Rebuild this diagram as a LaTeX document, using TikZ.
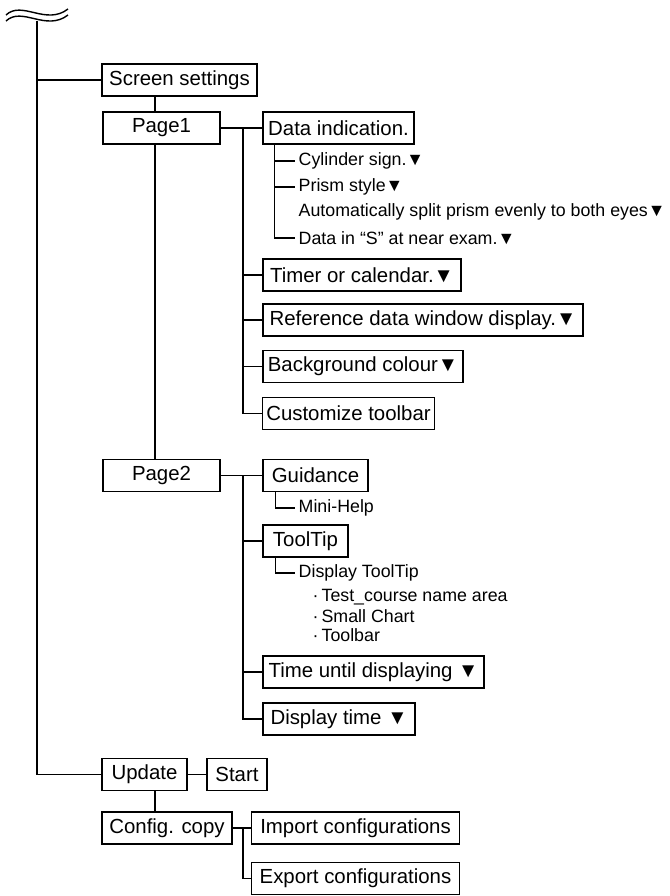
\documentclass[tikz,border=0pt]{standalone}
\usepackage{fontspec}
\setmainfont{Liberation Sans}
\usepackage{tikz}

\begin{document}
\begin{tikzpicture}[x=0.5pt,y=-0.5pt,line width=0.7pt,
  menubox/.style={draw,fill=white,minimum height=16pt,inner xsep=2pt,inner ysep=0pt,font=\fontsize{10.2}{12}\selectfont},
  subitem/.style={anchor=west,inner xsep=1.5pt,inner ysep=0pt,font=\fontsize{8.9}{10.5}\selectfont}]
\useasboundingbox (0,0) rectangle (670,896);
\node[menubox,minimum width=77.5pt] (screen) at (179.5,80) {Screen settings};
\node[menubox,minimum width=58.5pt] (page1) at (161.5,128) {Page1};
\node[menubox,minimum width=75.5pt] (data) at (338.5,128) {Data indication.};
\node[subitem] (cyl) at (295,161) {Cylinder sign.▼};
\node[subitem] (prism) at (295,187) {Prism style▼};
\node[subitem] (split) at (295,212) {Automatically split prism evenly to both eyes▼};
\node[subitem] (nearS) at (295,238) {Data in “S” at near exam.▼};
\node[menubox,minimum width=99pt] (timer) at (362,275) {Timer or calendar.▼};
\node[menubox,minimum width=160pt] (refwin) at (423,320) {Reference data window display.▼};
\node[menubox,minimum width=100pt] (bgcol) at (363,366.5) {Background colour▼};
\node[menubox,minimum width=85.5pt] (toolbar) at (348.5,413.5) {Customize toolbar};
\node[menubox,minimum width=58.5pt] (page2) at (161.5,475.5) {Page2};
\node[menubox,minimum width=52.5pt] (guide) at (315.5,475.5) {Guidance};
\node[subitem] (minihelp) at (295,508) {Mini-Help};
\node[menubox,minimum width=42.5pt] (tooltip) at (305.5,541) {ToolTip};
\node[subitem] (showtip) at (295,573) {Display ToolTip};
\node[subitem] (tipA) at (309,597) {·\,Test\_course name area};
\node[subitem] (tipB) at (309,616) {·\,Small Chart};
\node[subitem] (tipC) at (309,635) {·\,Toolbar};
\node[menubox,minimum width=110.5pt] (delay) at (373.5,672) {Time until displaying ▼};
\node[menubox,minimum width=76pt] (duration) at (339,719) {Display time ▼};
\node[menubox,minimum width=42.5pt] (update) at (144.5,774.5) {Update};
\node[menubox,minimum width=30pt] (start) at (237,774.5) {Start};
\node[menubox,minimum width=65pt] (confcopy) at (167,828) {Config. copy};
\node[menubox,minimum width=104pt] (import) at (355.5,828) {Import configurations};
\node[menubox,minimum width=104pt] (export) at (355.5,878.5) {Export configurations};

\coordinate (trunk) at (37,21);
\coordinate (spine) at (155,0);
\coordinate (branch) at (243,0);
\draw (6,15) .. controls (22,0) and (46,26) .. (68,9);
\draw (6,21) .. controls (22,6) and (46,32) .. (68,15);
\draw (trunk) |- (update.west);
\draw (trunk |- screen.west) -- (screen.west);
\draw (spine |- screen.south) -- (spine |- page1.north) (spine |- page1.south) -- (spine |- page2.north) (spine |- update.south) -- (spine |- confcopy.north);
\draw (page1.east) -- (data.west);
\draw (branch |- page1.east) |- (toolbar.west);
\foreach \n in {timer,refwin,bgcol} \draw (branch |- \n.west) -- (\n.west);
\coordinate (dstem) at ([xshift=6pt]data.south west);
\draw (dstem) |- (nearS.west);
\foreach \n in {cyl,prism} \draw (dstem |- \n.west) -- (\n.west);
\draw (page2.east) -- (guide.west);
\draw (branch |- page2.east) |- (duration.west);
\foreach \n in {tooltip,delay} \draw (branch |- \n.west) -- (\n.west);
\draw ([xshift=6.5pt]guide.south west) |- (minihelp.west);
\draw ([xshift=6.5pt]tooltip.south west) |- (showtip.west);
\draw (update.east) -- (start.west);
\draw (confcopy.east) -- (import.west);
\draw (branch |- confcopy.east) |- (export.west);
\end{tikzpicture}
\end{document}
